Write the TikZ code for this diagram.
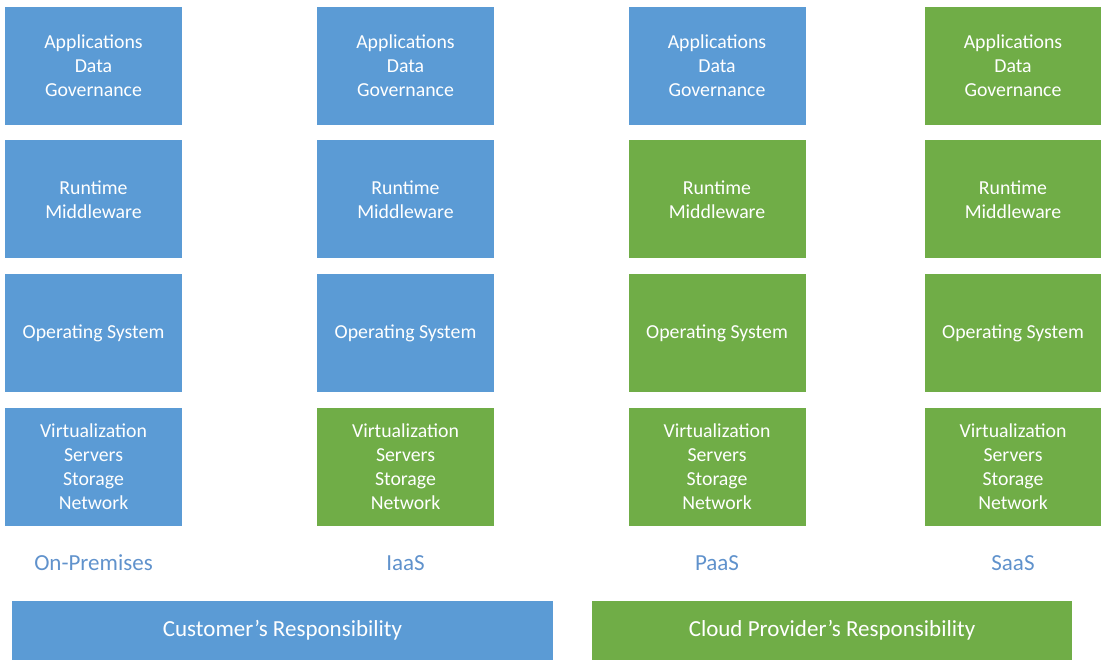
\documentclass[tikz,border=0pt]{standalone}
\usepackage{fontspec}
\setmainfont{Carlito}
\definecolor{custblue}{RGB}{91,155,213}
\definecolor{provgreen}{RGB}{112,173,71}
\definecolor{labelblue}{RGB}{96,146,204}
\begin{document}
\begin{tikzpicture}[x=1pt, y=1pt,
   layer/.style={minimum width=177pt, minimum height=118pt, inner sep=0pt,
      text=white, align=center, font=\fontsize{19.8}{24}\selectfont},
   cust/.style={layer, fill=custblue},
   prov/.style={layer, fill=provgreen},
   model/.style={text=labelblue, font=\fontsize{23}{26}\selectfont},
   resp/.style={minimum height=59pt, inner sep=0pt, text=white,
      font=\fontsize{23}{26}\selectfont}]
   \useasboundingbox (0, 0) rectangle (1101, -660);
   % On-Premises
   \node[cust] (op1) at (93.5, -66) {Applications\\Data\\Governance};
   \node[cust] (op2) at (93.5, -199.5) {Runtime\\Middleware};
   \node[cust] (op3) at (93.5, -333) {Operating System};
   \node[cust] (op4) at (93.5, -467) {Virtualization\\Servers\\Storage\\Network};
   % IaaS
   \node[cust] (ia1) at (405.5, -66) {Applications\\Data\\Governance};
   \node[cust] (ia2) at (405.5, -199.5) {Runtime\\Middleware};
   \node[cust] (ia3) at (405.5, -333) {Operating System};
   \node[prov] (ia4) at (405.5, -467) {Virtualization\\Servers\\Storage\\Network};
   % PaaS
   \node[cust] (pa1) at (717, -66) {Applications\\Data\\Governance};
   \node[prov] (pa2) at (717, -199.5) {Runtime\\Middleware};
   \node[prov] (pa3) at (717, -333) {Operating System};
   \node[prov] (pa4) at (717, -467) {Virtualization\\Servers\\Storage\\Network};
   % SaaS
   \node[prov, minimum width=176pt] (sa1) at (1013, -66) {Applications\\Data\\Governance};
   \node[prov, minimum width=176pt] (sa2) at (1013, -199.5) {Runtime\\Middleware};
   \node[prov, minimum width=176pt] (sa3) at (1013, -333) {Operating System};
   \node[prov, minimum width=176pt] (sa4) at (1013, -467) {Virtualization\\Servers\\Storage\\Network};
   % model names
   \node[model] (opname) at (93.5, -563) {On-Premises};
   \node[model] (ianame) at (405.5, -563) {IaaS};
   \node[model] (paname) at (717, -563) {PaaS};
   \node[model] (saname) at (1013, -563) {SaaS};
   % responsibility bars
   \node[resp, fill=custblue, minimum width=541pt] (custbar) at (282.5, -630.5) {Customer’s Responsibility};
   \node[resp, fill=provgreen, minimum width=480pt] (provbar) at (832, -630.5) {Cloud Provider’s Responsibility};
\end{tikzpicture}
\end{document}
